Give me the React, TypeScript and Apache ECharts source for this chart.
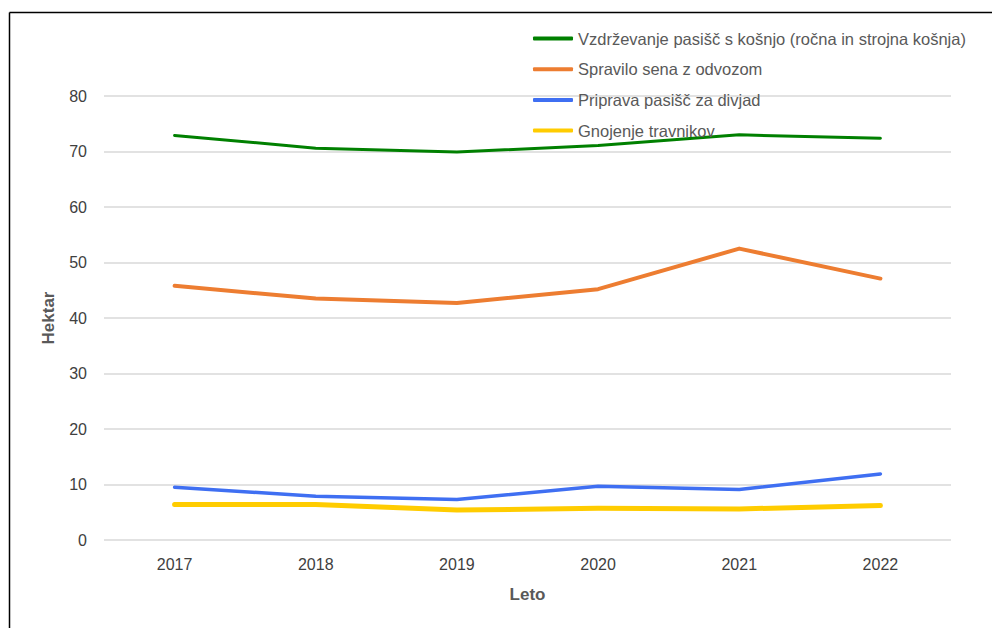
import React, { useEffect, useRef } from "react";
import * as echarts from "echarts";

const years = ["2017", "2018", "2019", "2020", "2021", "2022"];
const seriesNames = [
  "Vzdrževanje pasišč s košnjo (ročna in strojna košnja)",
  "Spravilo sena z odvozom",
  "Priprava pasišč za divjad",
  "Gnojenje travnikov",
];
const vzdrzevanje = [72.9, 70.6, 69.9, 71.1, 73.0, 72.4];
const spravilo = [45.8, 43.5, 42.7, 45.2, 52.5, 47.1];
const priprava = [9.5, 7.9, 7.3, 9.7, 9.1, 11.9];
const gnojenje = [6.4, 6.4, 5.4, 5.7, 5.6, 6.2];
const colors = ["#008000", "#ED7D31", "#3F6FF2", "#FFCC00"];
const widths = [3, 4, 3.5, 5];

export default function App() {
  const ref = useRef<HTMLDivElement>(null);
  useEffect(() => {
    if (!ref.current) return;
    const chart = echarts.init(ref.current, null, { renderer: "svg" });
    const data = [vzdrzevanje, spravilo, priprava, gnojenje];
    const font = "'Liberation Sans', Arial, sans-serif";
    chart.setOption({
      animation: false,
      backgroundColor: "#ffffff",
      textStyle: { fontFamily: font },
      grid: { left: 104, right: 41, top: 96, bottom: 88 },
      legend: {
        orient: "vertical",
        left: 533,
        top: 30,
        padding: 0,
        itemWidth: 40,
        itemHeight: 4,
        itemGap: 13.7,
        icon: "roundRect",
        textStyle: { color: "#595959", fontSize: 16.5, lineHeight: 17, fontFamily: font },
        data: seriesNames,
      },
      xAxis: {
        type: "category",
        data: years,
        boundaryGap: true,
        name: "Leto",
        nameLocation: "middle",
        nameGap: 46,
        nameTextStyle: { color: "#595959", fontSize: 17, fontWeight: "bold", fontFamily: font },
        axisLine: { show: false },
        axisTick: { show: false },
        axisLabel: { color: "#404040", fontSize: 16, margin: 16, fontFamily: font },
        splitLine: { show: false },
      },
      yAxis: {
        type: "value",
        min: 0,
        max: 80,
        interval: 10,
        name: "Hektar",
        nameLocation: "middle",
        nameGap: 47,
        nameRotate: 90,
        nameTextStyle: { color: "#595959", fontSize: 17, fontWeight: "bold", fontFamily: font },
        axisLine: { show: false },
        axisTick: { show: false },
        axisLabel: { color: "#404040", fontSize: 16, margin: 17, fontFamily: font },
        splitLine: { lineStyle: { color: "#D9D9D9", width: 1.5 } },
      },
      series: seriesNames.map((name, i) => ({
        name,
        type: "line",
        data: data[i],
        showSymbol: false,
        symbol: "none",
        color: colors[i],
        lineStyle: { color: colors[i], width: widths[i], cap: "round", join: "round" },
        z: 2,
      })),
      graphic: [
        { type: "line", shape: { x1: 9.5, y1: 12.5, x2: 992, y2: 12.5 }, style: { stroke: "#000", lineWidth: 1.5 }, z: 100 },
        { type: "line", shape: { x1: 9.5, y1: 12.5, x2: 9.5, y2: 628 }, style: { stroke: "#000", lineWidth: 1.5 }, z: 100 },
      ],
    });
    return () => chart.dispose();
  }, []);
  return (
    <div
      ref={ref}
      style={{ position: "absolute", left: 0, top: 0, width: 992, height: 628 }}
    />
  );
}
